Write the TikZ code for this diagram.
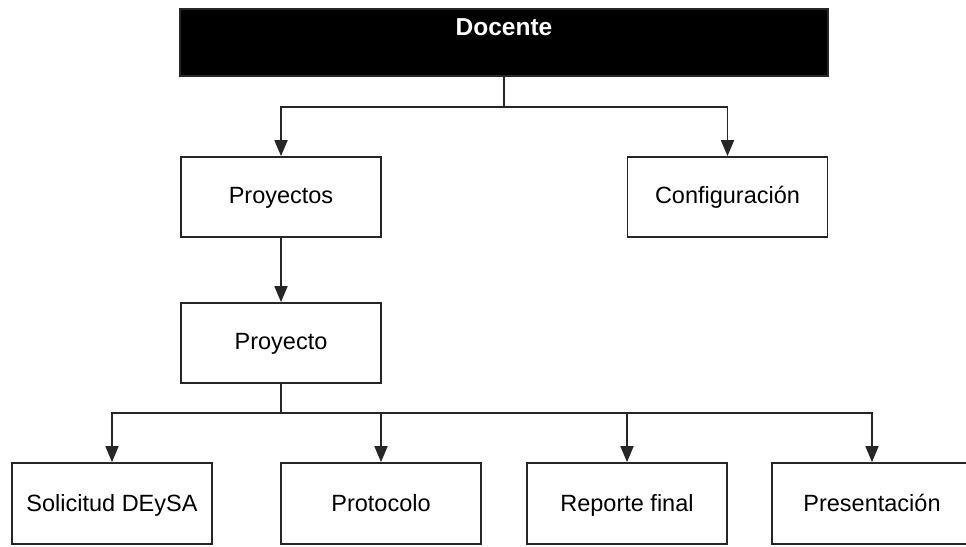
\documentclass[tikz,border=0pt]{standalone}
\usepackage{fontspec}
\setmainfont{Liberation Sans}
\usetikzlibrary{arrows.meta}
\begin{document}
\begin{tikzpicture}[x=1pt,y=-1pt,
  box/.style={draw=black!85, line width=1.8pt, fill=white, minimum width=200pt, inner sep=0pt, text height=46pt, text depth=34pt, font=\fontsize{23.5}{28}\selectfont},
  lowbox/.style={box, text height=48pt, text depth=33pt},
  conn/.style={draw=black!85, line width=1.8pt},
  arr/.style={conn, -{Triangle[length=16pt,width=13pt]}}]
\useasboundingbox (0,0) rectangle (966,546);
\clip (0,0) rectangle (966,546);
\node[draw=black!85, fill=black, line width=1.8pt, minimum width=648pt, inner sep=0pt, text height=26pt, text depth=41pt, text=white, font=\fontsize{24.5}{28}\selectfont\bfseries] (doc) at (504,42.5) {Docente};
\node[box] (pys) at (281,197) {Proyectos};
\node[box] (cfg) at (727.5,197) {Configuración};
\node[box] (py) at (281,343) {Proyecto};
\node[lowbox] (sol) at (112,503.5) {Solicitud DEySA};
\node[lowbox] (pro) at (381,503.5) {Protocolo};
\node[lowbox] (rep) at (627,503.5) {Reporte final};
\node[lowbox] (pre) at (872,503.5) {Presentación};
\coordinate (b1) at (504,107);
\coordinate (b2) at (281,413);
\draw[conn] (doc.south) -- (b1);
\draw[arr] (b1) -| (pys.north);
\draw[arr] (b1) -| (cfg.north);
\draw[arr] (pys.south) -- (py.north);
\draw[conn] (py.south) -- (b2);
\draw[arr] (b2) -| (sol.north);
\draw[arr] (b2) -| (pro.north);
\draw[arr] (b2) -| (rep.north);
\draw[arr] (b2) -| (pre.north);
\end{tikzpicture}
\end{document}
